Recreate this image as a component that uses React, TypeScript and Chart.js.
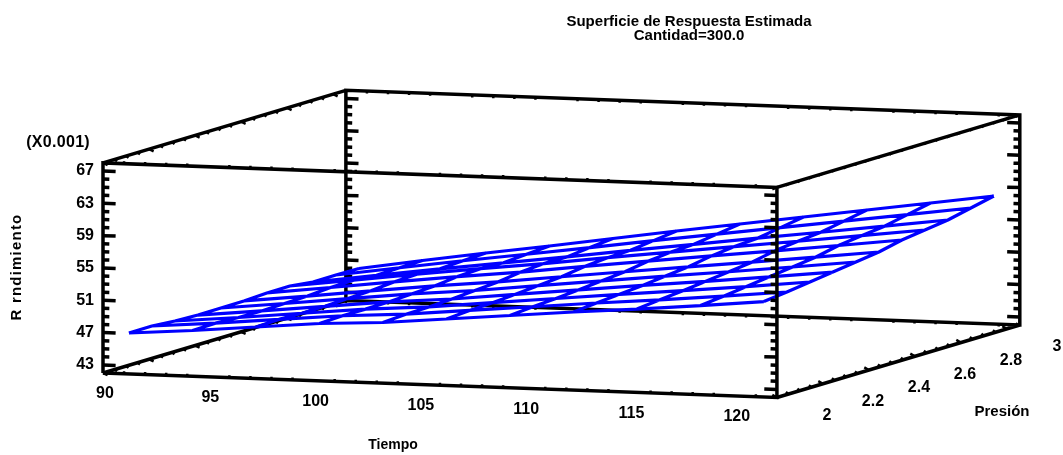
import React, { useEffect, useRef } from "react";
import { Chart, registerables } from "chart.js";

Chart.register(...registerables);

// ---- Data ----
const tiempoRange = [90, 122];
const presionRange = [2, 3.056];
const rendimientoRange = [42, 68];

const tiempoGrid = [91.23, 94.25, 97.26, 100.28, 103.29, 106.31, 109.32, 112.34, 115.35, 118.37, 121.38];
const presionGrid = [2, 2.1, 2.2, 2.3, 2.4, 2.5, 2.6, 2.7, 2.8, 2.9, 3];

const rendP20 = [47.07, 47.66, 48.38, 49.1, 49.51, 50.23, 50.95, 51.67, 52.32, 53.04, 53.82];
const rendP21 = [47.08, 47.72, 48.47, 49.21, 49.69, 50.44, 51.18, 51.93, 52.61, 53.35, 54.15];
const rendP22 = [46.85, 47.57, 48.38, 49.18, 49.74, 50.55, 51.35, 52.15, 52.89, 53.69, 54.54];
const rendP23 = [46.74, 47.53, 48.39, 49.22, 49.87, 50.73, 51.57, 52.41, 53.2, 54.04, 54.92];
const rendP24 = [46.76, 47.6, 48.5, 49.36, 50.07, 50.97, 51.84, 52.71, 53.53, 54.41, 55.31];
const rendP25 = [46.78, 47.67, 48.61, 49.5, 50.28, 51.21, 52.11, 53.01, 53.87, 54.77, 55.7];
const rendP26 = [46.92, 47.88, 48.86, 49.8, 50.65, 51.63, 52.57, 53.51, 54.42, 55.37, 56.33];
const rendP27 = [46.93, 47.94, 48.96, 49.93, 50.85, 51.87, 52.84, 53.81, 54.76, 55.73, 56.72];
const rendP28 = [46.58, 47.69, 48.78, 49.81, 50.83, 51.93, 52.96, 54.0, 55.02, 56.06, 57.11];
const rendP29 = [46.59, 47.78, 48.93, 50.02, 51.13, 52.28, 53.37, 54.46, 55.55, 56.64, 57.74];
const rendP30 = [46.55, 47.82, 49.04, 50.19, 51.4, 52.62, 53.77, 54.92, 56.07, 57.23, 58.38];
const rendimiento = [rendP20, rendP21, rendP22, rendP23, rendP24, rendP25, rendP26, rendP27, rendP28, rendP29, rendP30];

const tiempoTicks = [90, 95, 100, 105, 110, 115, 120];
const presionTicks = [2, 2.2, 2.4, 2.6, 2.8, 3];
const presionTickLabels = ["2", "2.2", "2.4", "2.6", "2.8", "3"];
const rendimientoTicks = [43, 47, 51, 55, 59, 63, 67];
const tiempoMinor = [91, 92, 93, 94, 96, 97, 98, 99, 101, 102, 103, 104, 106, 107, 108, 109, 111, 112, 113, 114, 116, 117, 118, 119, 121];
const presionMinor = [2.05, 2.1, 2.15, 2.25, 2.3, 2.35, 2.45, 2.5, 2.55, 2.65, 2.7, 2.75, 2.85, 2.9, 2.95, 3.05];
const rendimientoMinor = [44, 45, 46, 48, 49, 50, 52, 53, 54, 56, 57, 58, 60, 61, 62, 64, 65, 66];

const titleLines = ["Superficie de Respuesta Estimada", "Cantidad=300.0"];
const tiempoTitle = "Tiempo";
const presionTitle = "Presión";
const rendimientoTitle = "R rndimiento";
const multiplierLabel = "(X0.001)";

// ---- Parallel projection of the 3D box on the chart's x / y scales ----
const X0 = 103, Y0 = 373, XT = 21.06, YT = 0.766, XP = 230, YP = 68.7, YZ = 8.08;
type P = { x: number; y: number };
const project = (t: number, p: number, z: number): P => ({
  x: X0 + (t - tiempoRange[0]) * XT + (p - presionRange[0]) * XP,
  y: Y0 + (t - tiempoRange[0]) * YT - (p - presionRange[0]) * YP - (z - rendimientoRange[0]) * YZ,
});
const GAP: P = { x: NaN, y: NaN };
type V = [number, number, number];
const polyline = (vs: V[]): P[] => [...vs.map((v) => project(v[0], v[1], v[2])), GAP];

const [t0, t1] = tiempoRange;
const [p0, p1] = presionRange;
const [z0, z1] = rendimientoRange;

function surfacePoints(): P[] {
  const out: P[] = [];
  rendimiento.forEach((row, j) => {
    out.push(...polyline(row.map((z, i) => [tiempoGrid[i], presionGrid[j], z] as V)));
  });
  tiempoGrid.forEach((t, i) => {
    out.push(...polyline(presionGrid.map((p, j) => [t, p, rendimiento[j][i]] as V)));
  });
  return out;
}

const backEdges = (): P[] => [
  ...polyline([[t0, p1, z0], [t0, p1, z1], [t1, p1, z1], [t1, p1, z0], [t0, p1, z0], [t0, p0, z0]]),
  ...polyline([[t0, p0, z1], [t0, p1, z1]]),
  ...polyline([[t1, p0, z1], [t1, p1, z1]]),
  ...polyline([[t1, p0, z0], [t1, p1, z0]]),
];
const frontEdges = (): P[] => polyline([[t0, p0, z0], [t0, p0, z1], [t1, p0, z1], [t1, p0, z0], [t0, p0, z0]]);

const LEN_Z_MAJOR = 0.6, LEN_Z_MINOR = 0.3;
function zTicks(t: number, p: number, sign: number): P[] {
  const out: P[] = [];
  rendimientoTicks.forEach((z) => out.push(...polyline([[t, p, z], [t + sign * LEN_Z_MAJOR, p, z]])));
  rendimientoMinor.forEach((z) => out.push(...polyline([[t, p, z], [t + sign * LEN_Z_MINOR, p, z]])));
  return out;
}
function edgeTicks(): P[] {
  const out: P[] = [];
  [[p0, z0, 1], [p0, z1, 1], [p1, z0, -1], [p1, z1, -1]].forEach(([p, z, s]) => {
    tiempoMinor.forEach((t) => out.push(...polyline([[t, p, z], [t, p, z + s * 0.3]])));
  });
  [[t0, z0, 1], [t0, z1, 1], [t1, z0, -1], [t1, z1, -1]].forEach(([t, z, s]) => {
    const dz = t === t1 && z === z0 ? 0.3 : -0.25;
    presionTicks.forEach((p) => out.push(...polyline([[t, p, z], [t + s * 0.22, p, z + dz]])));
    presionMinor.forEach((p) => out.push(...polyline([[t, p, z], [t + s * 0.12, p, z + dz * 0.8]])));
  });
  return out;
}

const FONT = '"Liberation Sans", Arial, sans-serif';

const textPlugin = {
  id: "surfaceText",
  afterDraw(chart: any) {
    const ctx = chart.ctx as CanvasRenderingContext2D;
    const sx = chart.scales.x;
    const sy = chart.scales.y;
    const put = (txt: string, x: number, y: number, size: number, align: CanvasTextAlign = "center", spacing = 0) => {
      ctx.font = `bold ${size}px ${FONT}`;
      (ctx as any).letterSpacing = `${spacing}px`;
      ctx.textAlign = align;
      ctx.textBaseline = "middle";
      ctx.fillStyle = "#000";
      ctx.fillText(txt, x, y);
    };
    ctx.save();
    put(titleLines[0], sx.getPixelForValue(689), sy.getPixelForValue(21.5), 15);
    put(titleLines[1], sx.getPixelForValue(689), sy.getPixelForValue(35.5), 15);
    tiempoTicks.forEach((t) => {
      const a = project(t, p0, z0);
      put(String(t), sx.getPixelForValue(a.x + 2), sy.getPixelForValue(a.y + 21), 16);
    });
    presionTicks.forEach((p, i) => {
      const a = project(t1, p, z0);
      put(presionTickLabels[i], sx.getPixelForValue(a.x + 50), sy.getPixelForValue(a.y + 18), 16);
    });
    rendimientoTicks.forEach((z) => {
      const a = project(t0, p0, z);
      put(String(z), sx.getPixelForValue(a.x - 9), sy.getPixelForValue(a.y), 16, "right");
    });
    put(multiplierLabel, sx.getPixelForValue(90), sy.getPixelForValue(143), 16, "right", 0.3);
    put(tiempoTitle, sx.getPixelForValue(393), sy.getPixelForValue(445), 14);
    put(presionTitle, sx.getPixelForValue(1002), sy.getPixelForValue(412), 15);
    ctx.translate(sx.getPixelForValue(17), sy.getPixelForValue(267));
    ctx.rotate(-Math.PI / 2);
    put(rendimientoTitle, 0, 0, 15, "center", 1.2);
    ctx.restore();
  },
};

export default function App() {
  const ref = useRef<HTMLCanvasElement>(null);
  useEffect(() => {
    const common = { showLine: true, pointRadius: 0, pointHoverRadius: 0, spanGaps: false, fill: false, tension: 0, clip: false as const };
    const chart = new Chart(ref.current!, {
      type: "scatter",
      data: {
        datasets: [
          { ...common, label: "frente", data: frontEdges(), borderColor: "#000", borderWidth: 3.5, order: 1 },
          { ...common, label: "marcas frente", data: [...zTicks(t0, p0, 1), ...zTicks(t1, p0, -1)], borderColor: "#000", borderWidth: 3.5, borderCapStyle: "butt", order: 1 },
          { ...common, label: "superficie", data: surfacePoints(), borderColor: "#0000FF", borderWidth: 3.2, borderJoinStyle: "round", order: 2 },
          { ...common, label: "fondo", data: backEdges(), borderColor: "#000", borderWidth: 3.5, order: 3 },
          { ...common, label: "marcas fondo", data: [...zTicks(t0, p1, 1), ...zTicks(t1, p1, -1)], borderColor: "#000", borderWidth: 3.5, order: 3 },
          { ...common, label: "marcas aristas", data: edgeTicks(), borderColor: "#000", borderWidth: 2.5, order: 3 },
        ] as any,
      },
      options: {
        responsive: false,
        animation: false,
        layout: { padding: 0 },
        plugins: { legend: { display: false }, tooltip: { enabled: false }, title: { display: false } },
        scales: {
          x: { type: "linear", display: false, min: 0, max: 1063 },
          y: { type: "linear", display: false, min: 0, max: 455, reverse: true },
        },
      },
      plugins: [textPlugin],
    });
    return () => chart.destroy();
  }, []);
  return (
    <canvas
      ref={ref}
      width={1063}
      height={455}
      style={{ position: "absolute", left: 0, top: 0, width: 1063, height: 455, display: "block", background: "#fff" }}
    />
  );
}
